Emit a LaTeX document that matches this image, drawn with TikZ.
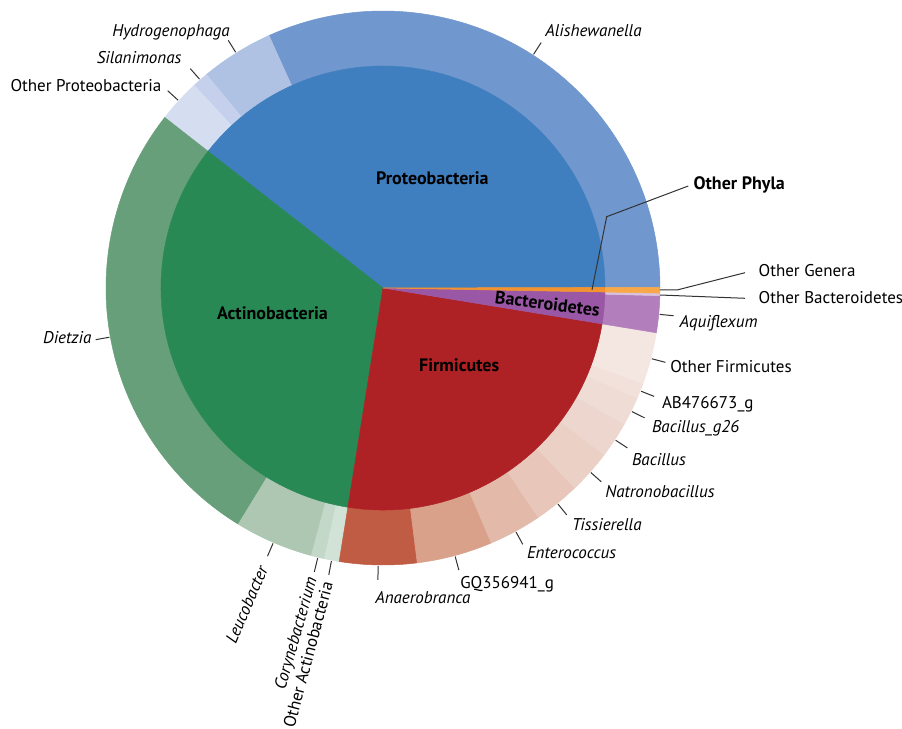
\documentclass[tikz,border=0pt]{standalone}
\usepackage{fontspec}
\setmainfont{PT Sans}
\usepackage{tikz}
\usetikzlibrary{positioning}

\definecolor{proteo}{HTML}{3F7EBF}
\definecolor{alish}{HTML}{7097CE}
\definecolor{hydro}{HTML}{AFC2E4}
\definecolor{silan}{HTML}{C5D1EC}
\definecolor{oproteo}{HTML}{D5DEF1}
\definecolor{actino}{HTML}{288954}
\definecolor{dietz}{HTML}{679F7A}
\definecolor{leuco}{HTML}{ADC7B2}
\definecolor{coryn}{HTML}{C3D8C8}
\definecolor{oactino}{HTML}{D1E3D6}
\definecolor{firmi}{HTML}{AE2125}
\definecolor{anaer}{HTML}{C05B44}
\definecolor{gqg}{HTML}{D9A08A}
\definecolor{enter}{HTML}{E3BAAA}
\definecolor{tissi}{HTML}{E8C7BA}
\definecolor{natro}{HTML}{EBD0C5}
\definecolor{bacil}{HTML}{EDD6CD}
\definecolor{bacgs}{HTML}{EFDCD4}
\definecolor{abg}{HTML}{F1E1DA}
\definecolor{ofirmi}{HTML}{F4E7E1}
\definecolor{bacte}{HTML}{9A57A5}
\definecolor{aquif}{HTML}{B37EBC}
\definecolor{obacte}{HTML}{D8C2DE}
\definecolor{ophyla}{HTML}{F39330}
\definecolor{ogenera}{HTML}{F8A848}

% inner wedge: start, end, colour
\newcommand{\piepart}[3]{\filldraw[fill=#3,draw=#3,line width=.3pt] (0,0) -- (#1:222) arc[start angle=#1,end angle=#2,radius=222] -- cycle;}
% outer ring piece: start, end, colour
\newcommand{\ringpart}[3]{\filldraw[fill=#3,draw=#3,line width=.3pt] (#1:222) arc[start angle=#1,end angle=#2,radius=222] -- (#2:277) arc[start angle=#2,end angle=#1,radius=277] -- cycle;}

\begin{document}
\begin{tikzpicture}[x=0.6pt,y=0.6pt,
 lead/.style={black!80,line width=0.6pt},
 gen/.style={inner sep=0pt,font=\fontsize{10.2}{12}\selectfont\itshape},
 oth/.style={inner sep=0pt,font=\fontsize{10.2}{12}\selectfont},
 phy/.style={inner sep=0pt,font=\fontsize{10.8}{12}\selectfont\bfseries}]
 \useasboundingbox[fill=white] (-383,-440) rectangle (519,288);

 % genera
 \ringpart{0.15}{114.3}{alish}
 \ringpart{114.3}{129.6}{hydro}
 \ringpart{129.6}{133}{silan}
 \ringpart{133}{142}{oproteo}
 \ringpart{142}{238.5}{dietz}
 \ringpart{238.5}{255}{leuco}
 \ringpart{255}{257.8}{coryn}
 \ringpart{257.8}{260.9}{oactino}
 \ringpart{-99.1}{-82.9}{anaer}
 \ringpart{-82.9}{-67}{gqg}
 \ringpart{-67}{-55.9}{enter}
 \ringpart{-55.9}{-46.2}{tissi}
 \ringpart{-46.2}{-37}{natro}
 \ringpart{-37}{-29.4}{bacil}
 \ringpart{-29.4}{-23.4}{bacgs}
 \ringpart{-23.4}{-20.2}{abg}
 \ringpart{-20.2}{-9.3}{ofirmi}
 \ringpart{-9.3}{-1.6}{aquif}
 \ringpart{-1.6}{-1.05}{obacte}
 \ringpart{-1.05}{0.15}{ogenera}

 % phyla
 \piepart{0.15}{142}{proteo}
 \piepart{142}{260.9}{actino}
 \piepart{-99.1}{-9.3}{firmi}
 \piepart{-9.3}{-1.05}{bacte}
 \piepart{-1.05}{0.15}{ophyla}

 \node[phy,anchor=base] (pro) at (49.3,103) {Proteobacteria};
 \node[phy,anchor=base] (act) at (-110.5,-31.3) {Actinobacteria};
 \node[phy,anchor=base] (fir) at (76.2,-83.7) {Firmicutes};
 \node[phy,anchor=base,rotate=-7] (bac) at (163.7,-22) {Bacteroidetes};

 % leader ends on the ring
 \coordinate (ali-a) at (57.2:278);   \coordinate (ali-b) at (57.2:292);
 \coordinate (hyd-a) at (122:278);    \coordinate (hyd-b) at (122:292);
 \coordinate (sil-a) at (131.3:278);  \coordinate (sil-b) at (131.3:292);
 \coordinate (opr-a) at (137.5:278);  \coordinate (opr-b) at (137.5:292);
 \coordinate (die-a) at (190.2:278);  \coordinate (die-b) at (190.2:292);
 \coordinate (leu-a) at (246.7:278);  \coordinate (leu-b) at (246.7:292);
 \coordinate (cor-a) at (256.4:278);  \coordinate (cor-b) at (256.4:292);
 \coordinate (oac-a) at (259.3:278);  \coordinate (oac-b) at (259.3:292);
 \coordinate (ana-a) at (269:278);    \coordinate (ana-b) at (269:292);
 \coordinate (gq-a) at (-74.95:278);  \coordinate (gq-b) at (-74.95:292);
 \coordinate (ent-a) at (-61.4:278);  \coordinate (ent-b) at (-61.4:292);
 \coordinate (tis-a) at (-51:278);    \coordinate (tis-b) at (-51:292);
 \coordinate (nat-a) at (-41.6:278);  \coordinate (nat-b) at (-41.6:292);
 \coordinate (bcl-a) at (-33.2:278);  \coordinate (bcl-b) at (-33.2:292);
 \coordinate (bgs-a) at (-26.4:278);  \coordinate (bgs-b) at (-26.4:292);
 \coordinate (abg-a) at (-21.8:278);  \coordinate (abg-b) at (-21.8:292);
 \coordinate (ofi-a) at (-14.75:278); \coordinate (ofi-b) at (-14.75:292);
 \coordinate (aqu-a) at (-5.45:278);  \coordinate (aqu-b) at (-5.45:292);
 \coordinate (oba-a) at (-1.45:277);  \coordinate (oba-b) at (362,-10.3);
 \coordinate (oge-a) at (-0.4:277);   \coordinate (oge-m) at (294,-2);  \coordinate (oge-b) at (362,15.3);
 \coordinate (oph-a) at (-0.5:209);   \coordinate (oph-m) at (223.7,71.3); \coordinate (oph-b) at (305.3,102);

 \draw[lead] (ali-a) -- (ali-b);
 \draw[lead] (hyd-a) -- (hyd-b);
 \draw[lead] (sil-a) -- (sil-b);
 \draw[lead] (opr-a) -- (opr-b);
 \draw[lead] (die-a) -- (die-b);
 \draw[lead] (leu-a) -- (leu-b);
 \draw[lead] (cor-a) -- (cor-b);
 \draw[lead] (oac-a) -- (oac-b);
 \draw[lead] (ana-a) -- (ana-b);
 \draw[lead] (gq-a) -- (gq-b);
 \draw[lead] (ent-a) -- (ent-b);
 \draw[lead] (tis-a) -- (tis-b);
 \draw[lead] (nat-a) -- (nat-b);
 \draw[lead] (bcl-a) -- (bcl-b);
 \draw[lead] (bgs-a) -- (bgs-b);
 \draw[lead] (abg-a) -- (abg-b);
 \draw[lead] (ofi-a) -- (ofi-b);
 \draw[lead] (aqu-a) -- (aqu-b);
 \draw[lead] (oba-a) -- (oba-b);
 \draw[lead] (oge-a) -- (oge-m) -- (oge-b);
 \draw[lead] (oph-a) -- (oph-m) -- (oph-b);

 % labels
 \node[gen,anchor=base west] (ali) at (162,251) {Alishewanella};
 \node[gen,anchor=base east] (hyd) at (-153,251) {Hydrogenophaga};
 \node[gen,anchor=base east] (sil) at (-201.3,224.7) {Silanimonas};
 \node[oth,anchor=base east] (opr) at (-221.3,196.3) {Other Proteobacteria};
 \node[gen,anchor=base east] (die) at (-291.3,-55.3) {Dietzia};
 \node[gen,anchor=east,rotate=66.7] (leu) at (246.7:303) {Leucobacter};
 \node[gen,anchor=east,rotate=74] (cor) at (256.4:298) {Corynebacterium};
 \node[oth,anchor=east,rotate=75] (oac) at (259.3:299) {Other Actinobacteria};
 \node[gen,anchor=base west] (ana) at (-8,-315.3) {Anaerobranca};
 \node[oth,anchor=base west] (gq) at (77,-300.3) {GQ356941\_g};
 \node[gen,anchor=base west] (ent) at (143.7,-270.3) {Enterococcus};
 \node[gen,anchor=base west] (tis) at (188.7,-242.7) {Tissierella};
 \node[gen,anchor=base west] (nat) at (222,-209.3) {Natronobacillus};
 \node[gen,anchor=base west] (bcl) at (248.7,-177.7) {Bacillus};
 \node[gen,anchor=base west] (bgs) at (268.7,-144.3) {Bacillus\_g26};
 \node[oth,anchor=base west] (abg) at (278.7,-121) {AB476673\_g};
 \node[oth,anchor=base west] (ofi) at (287,-84.7) {Other Firmicutes};
 \node[gen,anchor=base west] (aqu) at (296.3,-39.3) {Aquiflexum};
 \node[oth,anchor=base west] (oba) at (375.3,-15.3) {Other Bacteroidetes};
 \node[oth,anchor=base west] (oge) at (375.3,11.3) {Other Genera};
 \node[phy,anchor=base west] (oph) at (310.3,98) {Other Phyla};
\end{tikzpicture}
\end{document}
